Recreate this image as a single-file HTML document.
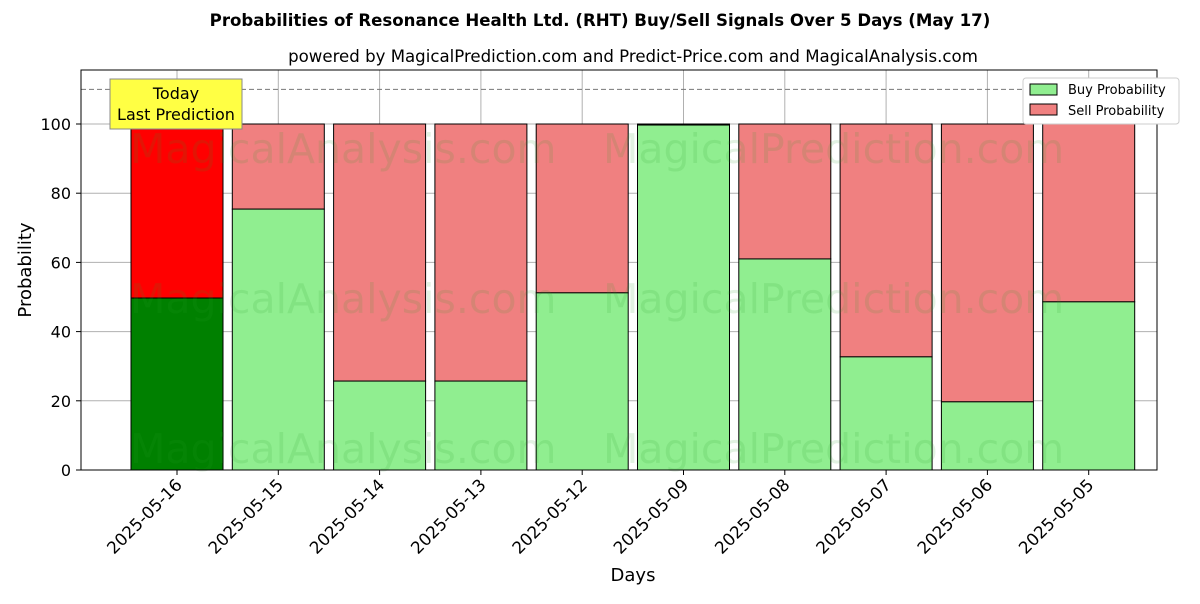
<!DOCTYPE html>
<html><head><meta charset="utf-8"><style>
body{margin:0;background:#fff;font-family:"DejaVu Sans","Liberation Sans",sans-serif}
svg{font-family:"DejaVu Sans","Liberation Sans",sans-serif}
</style></head><body>
<svg id="chart" width="1200" height="600" xmlns="http://www.w3.org/2000/svg">
<text x="600" y="26" text-anchor="middle" font-size="16.6" font-weight="bold">Probabilities of Resonance Health Ltd. (RHT) Buy/Sell Signals Over 5 Days (May 17)</text>
<text x="633" y="62" text-anchor="middle" font-size="16.6">powered by MagicalPrediction.com and Predict-Price.com and MagicalAnalysis.com</text>
<g id="grid"></g>
<g id="bars"></g>
<g font-size="41" fill="#2ca02c" opacity="0.13">
<text x="130" y="163">MagicalAnalysis.com</text><text x="603" y="163">MagicalPrediction.com</text>
<text x="130" y="313">MagicalAnalysis.com</text><text x="603" y="313">MagicalPrediction.com</text>
<text x="130" y="463">MagicalAnalysis.com</text><text x="603" y="463">MagicalPrediction.com</text>
</g>
<line x1="81" x2="1157" y1="89.4" y2="89.4" stroke="#777" stroke-dasharray="5,3"/>
<rect x="81" y="70" width="1076" height="400" fill="none" stroke="#000"/>
<g id="axes"></g>
<g>
<rect x="110" y="79" width="132" height="50" fill="#ffff44" stroke="#888"/>
<text x="176" y="99" text-anchor="middle" font-size="16">Today</text>
<text x="176" y="120" text-anchor="middle" font-size="16">Last Prediction</text>
</g>
<g>
<rect x="1023" y="78" width="156" height="46" fill="#fff" stroke="#ccc" rx="3"/>
<rect x="1030" y="84" width="27" height="11" fill="#90ee90" stroke="#000"/>
<text x="1068" y="94" font-size="13">Buy Probability</text>
<rect x="1030" y="104" width="27" height="11" fill="#f08080" stroke="#000"/>
<text x="1068" y="115" font-size="13">Sell Probability</text>
</g>
<text x="633" y="581" text-anchor="middle" font-size="18">Days</text>
<text transform="translate(31,270) rotate(-90)" text-anchor="middle" font-size="18">Probability</text>
</svg>
<script>
const categories=["2025-05-16","2025-05-15","2025-05-14","2025-05-13","2025-05-12","2025-05-09","2025-05-08","2025-05-07","2025-05-06","2025-05-05"];
const buyValues=[49.7,75.4,25.7,25.7,51.2,99.7,61.0,32.7,19.7,48.6];
const yTicks=[0,20,40,60,80,100];
const NS="http://www.w3.org/2000/svg";
const yScale=v=>470-v*3.46;
const xScale=i=>177+i*101.3;
const bw=92;
function mk(tag,attrs,parent){const e=document.createElementNS(NS,tag);for(const k in attrs)e.setAttribute(k,attrs[k]);parent.appendChild(e);return e;}
const grid=document.getElementById('grid'),bars=document.getElementById('bars'),axes=document.getElementById('axes');
yTicks.forEach(t=>{const y=yScale(t);
 const g=mk('line',{x1:81,x2:1157,y1:y,y2:y,stroke:'#b0b0b0'},grid);
 
 
 mk('line',{x1:76,x2:81,y1:y,y2:y,stroke:'#000'},axes);
 const tx=mk('text',{x:71,y:y+6,'text-anchor':'end','font-size':16},axes);tx.textContent=t;
 
 
});
categories.forEach((c,i)=>{const x=xScale(i);
 const g=mk('line',{x1:x,x2:x,y1:70,y2:470,stroke:'#b0b0b0'},grid);
 
 
 const b=buyValues[i];
 const today=i===0;
 const s=mk('rect',{x:x-bw/2,y:yScale(100),width:bw,height:yScale(b)-yScale(100),fill:today?'#ff0000':'#f08080',stroke:'#000'},bars);
 
 
 const r=mk('rect',{x:x-bw/2,y:yScale(b),width:bw,height:yScale(0)-yScale(b),fill:today?'#008000':'#90ee90',stroke:'#000'},bars);
 
 
 mk('line',{x1:x,x2:x,y1:470,y2:475,stroke:'#000'},axes);
 const tx=mk('text',{x:x+6,y:486,'text-anchor':'end','font-size':16.8,transform:`rotate(-45 ${x+6} 486)`},axes);tx.textContent=c;
 
 
});
</script>
</body></html>
